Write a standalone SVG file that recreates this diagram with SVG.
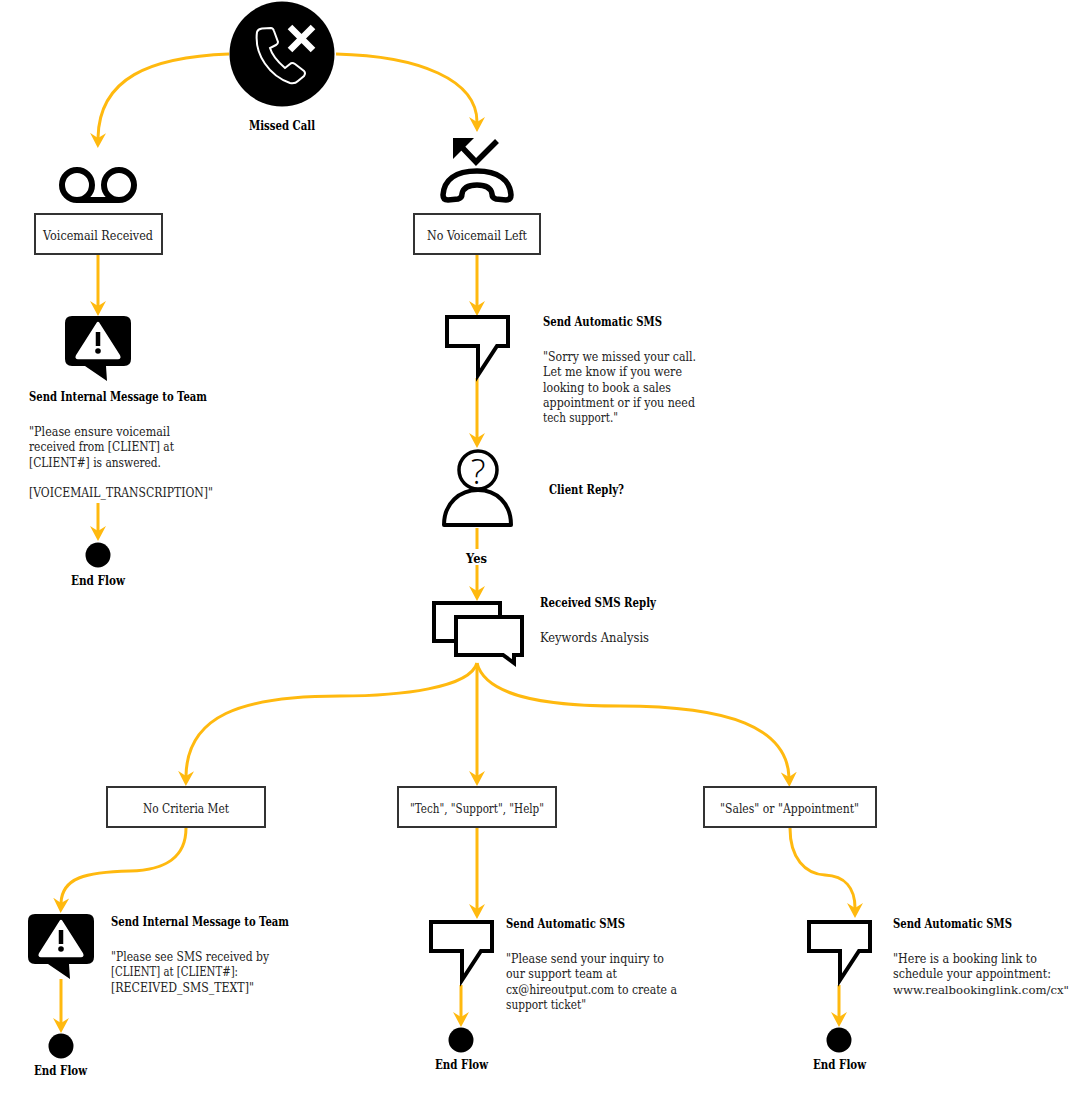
<svg xmlns="http://www.w3.org/2000/svg" xmlns:xlink="http://www.w3.org/1999/xlink" width="1073" height="1097" viewBox="0 0 1073 1097">
<style>
text{font-family:"DejaVu Serif","Liberation Serif",serif;font-size:12.5px;fill:#222;transform:translateY(.5px)}
.b{font-weight:700;fill:#000}
.c{fill:none;stroke:#FFB90F;stroke-width:3;marker-end:url(#arr)}
.box{fill:#fff;stroke:#333;stroke-width:2}
.sms{fill:#fff;stroke:#000;stroke-width:4}
.ink{fill:none;stroke:#000}
</style>
<defs>
<marker id="arr" markerUnits="userSpaceOnUse" markerWidth="15" markerHeight="16" viewBox="0 0 15 16" refX="5" refY="8" orient="auto"><polygon points="0,0 15,8 0,16 5,8" fill="#FFB90F"/></marker>
<g id="warn">
<path d="M7 0H59Q66 0 66 7V43Q66 50 59 50H41L42 65L20 50H7Q0 50 0 43V7Q0 0 7 0Z" fill="#000"/>
<path d="M33 7L54 40Q55 42 53 42H13Q11 42 12 40Z" fill="#fff" stroke="#fff" stroke-width="2.500" stroke-linejoin="round"/>
<path d="M33 16V30" stroke="#000" stroke-width="4.500" fill="none"/>
<circle cx="33" cy="35" r="2.800" fill="#000"/>
</g>
<polygon id="bub" class="sms" points="2,2 63,2 63,31 52,31 33,60 33,31 2,31"/>
</defs>

<g id="connectors">
<path class="c" d="M229 54C150 57 99 78 98 138"/>
<path class="c" d="M336 54C420 56 477 80 477 122"/>
<path class="c" d="M98 255V306"/>
<path class="c" d="M477 255V306"/>
<path class="c" d="M98 503V531"/>
<path class="c" d="M477 378V438"/>
<path class="c" d="M477 528V591"/>
<path class="c" d="M477 663C470 688 400 696 340 696C240 696 187 716 186 776"/>
<path class="c" d="M477 663V776"/>
<path class="c" d="M477 663C485 695 540 706 620 706C730 706 787 728 789 777"/>
<path class="c" d="M186 828C186 858 165 870 130 871C85 872 62 878 61 903"/>
<path class="c" d="M477 828V909"/>
<path class="c" d="M790 828C790 858 805 874 825 875C845 876 855 888 855 908"/>
<path class="c" d="M61 979V1023"/>
<path class="c" d="M461 985V1017"/>
<path class="c" d="M839 985V1017"/>
</g>

<g id="missed-call">
<circle cx="282" cy="54" r="52.500" fill="#000"/>
<path d="M257 32Q258 29 262 28.500L271 28Q273 28 274 31L278 42Q278 44 276 45L270 48C272 55 278 62 285 68L290 64Q292 62 295 64L304 71Q306 73 304 76L298 81Q295 84 290 83C270 76 254 55 257 32Z" fill="none" stroke="#fff" stroke-width="2"/>
<path d="M290 27L313 50M313 27L290 50" stroke="#fff" stroke-width="6.500" fill="none"/>
<text class="b" x="249" y="129" textLength="66" lengthAdjust="spacingAndGlyphs">Missed Call</text>
</g>

<g id="voicemail-received">
<circle class="ink" cx="77" cy="185" r="15" stroke-width="6"/>
<circle class="ink" cx="119" cy="185" r="15" stroke-width="6"/>
<path class="ink" d="M77 200H119" stroke-width="6"/>
<rect class="box" x="35" y="214" width="127" height="40"/>
<text x="43" y="239" textLength="110" lengthAdjust="spacingAndGlyphs">Voicemail Received</text>
</g>

<g id="no-voicemail-left">
<polygon points="453,138 474,138 453,159" fill="#000"/>
<path class="ink" stroke-width="5.500" d="M457 142L476 162L497 141"/>
<path class="ink" stroke-width="5.500" d="M477 171C455 171 444 180 443 195Q443 200 448 200L458 199Q462 198 462 194C463 188 468 185 477 185C486 185 491 188 492 194Q492 198 496 199L506 200Q511 200 511 195C510 180 498 171 477 171Z"/>
<rect class="box" x="414" y="214" width="126" height="40"/>
<text x="427" y="239" textLength="100" lengthAdjust="spacingAndGlyphs">No Voicemail Left</text>
</g>

<g id="internal-message-1">
<use href="#warn" x="65" y="316"/>
<text class="b" x="29" y="400" textLength="178" lengthAdjust="spacingAndGlyphs">Send Internal Message to Team</text>
<text x="29" y="435" textLength="141" lengthAdjust="spacingAndGlyphs">"Please ensure voicemail</text>
<text x="29" y="450" textLength="145" lengthAdjust="spacingAndGlyphs">received from [CLIENT] at</text>
<text x="29" y="466" textLength="132" lengthAdjust="spacingAndGlyphs">[CLIENT#] is answered.</text>
<text x="29" y="496" textLength="184" lengthAdjust="spacingAndGlyphs">[VOICEMAIL_TRANSCRIPTION]"</text>
</g>

<g id="end-flow-1">
<circle cx="98" cy="555" r="12.500" fill="#000"/>
<text class="b" x="71" y="584" textLength="54" lengthAdjust="spacingAndGlyphs">End Flow</text>
</g>

<g id="send-sms-1">
<use href="#bub" x="445" y="315"/>
<text class="b" x="543" y="325" textLength="119" lengthAdjust="spacingAndGlyphs">Send Automatic SMS</text>
<text x="543" y="360" textLength="153" lengthAdjust="spacingAndGlyphs">"Sorry we missed your call.</text>
<text x="543" y="375" textLength="139" lengthAdjust="spacingAndGlyphs">Let me know if you were</text>
<text x="543" y="391" textLength="128" lengthAdjust="spacingAndGlyphs">looking to book a sales</text>
<text x="543" y="406" textLength="152" lengthAdjust="spacingAndGlyphs">appointment or if you need</text>
<text x="543" y="421" textLength="75" lengthAdjust="spacingAndGlyphs">tech support."</text>
</g>

<g id="client-reply">
<circle class="ink" cx="478" cy="470" r="19" stroke-width="3.500"/>
<text x="478" y="483" text-anchor="middle" style="font-family:'Open Sans',sans-serif;font-weight:300;font-size:35px;fill:#000">?</text>
<path d="M444 525C444 503 460 490 478 490C496 490 511 503 511 525Z" fill="#fff" stroke="#000" stroke-width="4" stroke-linejoin="round"/>
<text class="b" x="549" y="493" textLength="75" lengthAdjust="spacingAndGlyphs">Client Reply?</text>
</g>

<g id="yes-label">
<rect x="464" y="549" width="26" height="16" fill="#fff"/>
<text class="b" x="466" y="562" textLength="21" lengthAdjust="spacingAndGlyphs">Yes</text>
</g>

<g id="received-sms">
<rect class="sms" x="434" y="603" width="66" height="38"/>
<path class="sms" d="M456 617H522V655H514V663L503 655H456Z"/>
<text class="b" x="540" y="606" textLength="116" lengthAdjust="spacingAndGlyphs">Received SMS Reply</text>
<text x="540" y="641" textLength="109" lengthAdjust="spacingAndGlyphs">Keywords Analysis</text>
</g>

<g id="no-criteria">
<rect class="box" x="107" y="787" width="158" height="40"/>
<text x="143" y="812" textLength="86" lengthAdjust="spacingAndGlyphs">No Criteria Met</text>
</g>
<g id="tech-support">
<rect class="box" x="398" y="787" width="158" height="40"/>
<text x="410" y="812" textLength="134" lengthAdjust="spacingAndGlyphs">"Tech", "Support", "Help"</text>
</g>
<g id="sales-appointment">
<rect class="box" x="704" y="787" width="172" height="40"/>
<text x="720" y="812" textLength="139" lengthAdjust="spacingAndGlyphs">"Sales" or "Appointment"</text>
</g>

<g id="internal-message-2">
<use href="#warn" x="28" y="914"/>
<text class="b" x="111" y="925" textLength="178" lengthAdjust="spacingAndGlyphs">Send Internal Message to Team</text>
<text x="111" y="960" textLength="158" lengthAdjust="spacingAndGlyphs">"Please see SMS received by</text>
<text x="111" y="975" textLength="127" lengthAdjust="spacingAndGlyphs">[CLIENT] at [CLIENT#]:</text>
<text x="111" y="991" textLength="143" lengthAdjust="spacingAndGlyphs">[RECEIVED_SMS_TEXT]"</text>
</g>
<g id="end-flow-2">
<circle cx="61" cy="1046" r="12.500" fill="#000"/>
<text class="b" x="34" y="1074" textLength="53" lengthAdjust="spacingAndGlyphs">End Flow</text>
</g>

<g id="send-sms-2">
<use href="#bub" x="429" y="920"/>
<text class="b" x="506" y="927" textLength="119" lengthAdjust="spacingAndGlyphs">Send Automatic SMS</text>
<text x="506" y="962" textLength="158" lengthAdjust="spacingAndGlyphs">"Please send your inquiry to</text>
<text x="506" y="977" textLength="111" lengthAdjust="spacingAndGlyphs">our support team at</text>
<text x="506" y="993" textLength="171" lengthAdjust="spacingAndGlyphs">cx@hireoutput.com to create a</text>
<text x="506" y="1008" textLength="80" lengthAdjust="spacingAndGlyphs">support ticket"</text>
</g>
<g id="end-flow-3">
<circle cx="461" cy="1040" r="12.500" fill="#000"/>
<text class="b" x="435" y="1068" textLength="53" lengthAdjust="spacingAndGlyphs">End Flow</text>
</g>

<g id="send-sms-3">
<use href="#bub" x="807" y="920"/>
<text class="b" x="893" y="927" textLength="119" lengthAdjust="spacingAndGlyphs">Send Automatic SMS</text>
<text x="893" y="962" textLength="144" lengthAdjust="spacingAndGlyphs">"Here is a booking link to</text>
<text x="893" y="977" textLength="158" lengthAdjust="spacingAndGlyphs">schedule your appointment:</text>
<text x="893" y="993" textLength="176" lengthAdjust="spacingAndGlyphs" style="font-size:11.5px">www.realbookinglink.com/cx"</text>
</g>
<g id="end-flow-4">
<circle cx="839" cy="1040" r="12.500" fill="#000"/>
<text class="b" x="813" y="1068" textLength="53" lengthAdjust="spacingAndGlyphs">End Flow</text>
</g>
</svg>
